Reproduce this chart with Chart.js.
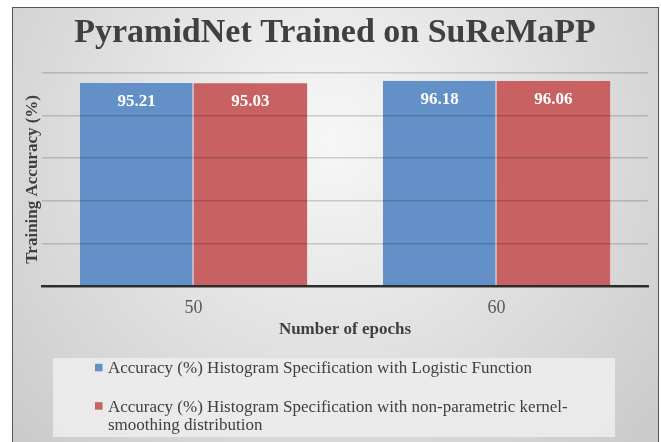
<!DOCTYPE html>
<html>
<head>
<meta charset="utf-8">
<script src="https://cdn.jsdelivr.net/npm/chart.js@4.4.1/dist/chart.umd.min.js"></script>
<style>
  html, body { margin: 0; padding: 0; background: #fff; }
</style>
</head>
<body>
<canvas id="c" width="661" height="442"></canvas>
<script>
// data
const epochs = ['50', '60'];
const logisticAcc = [95.21, 96.18];
const kernelAcc = [95.03, 96.06];
const seriesNames = [
  'Accuracy (%) Histogram Specification with Logistic Function',
  'Accuracy (%) Histogram Specification with non-parametric kernel-smoothing distribution'
];
const yTicks = [0, 20, 40, 60, 80, 100];

const SERIF = '"Liberation Serif", "Times New Roman", serif';

// wrap at spaces and after hyphens
function wrapText(ctx, text, maxW){
  const toks = [];
  text.split(' ').forEach((w, wi) => {
    w.split(/(?<=-)/).forEach((p, pi) => toks.push({t: p, sp: wi > 0 && pi === 0}));
  });
  const lines = [];
  let cur = '';
  toks.forEach(tk => {
    const test = cur + (cur && tk.sp ? ' ' : '') + tk.t;
    if(cur && ctx.measureText(test).width > maxW){ lines.push(cur); cur = tk.t; }
    else cur = test;
  });
  if(cur) lines.push(cur);
  return lines;
}

const frameBg = {
  id: 'frameBg',
  beforeDraw(chart){
    const {ctx, width, height} = chart;
    ctx.save();
    ctx.fillStyle = '#fff';
    ctx.fillRect(0, 0, width, height);
    const g = ctx.createRadialGradient(330, 140, 10, 330, 140, 430);
    g.addColorStop(0, '#f6f6f6');
    g.addColorStop(1, '#cbcbcb');
    ctx.fillStyle = g;
    ctx.fillRect(12.5, 7.5, 646, 440);
    ctx.strokeStyle = '#555';
    ctx.lineWidth = 1;
    ctx.strokeRect(12.5, 7.5, 646, 440);
    ctx.restore();
  }
};

const valueLabels = {
  id: 'valueLabels',
  afterDraw(chart){
    const {ctx} = chart;
    ctx.save();
    ctx.font = 'bold 17px ' + SERIF;
    ctx.fillStyle = '#fff';
    ctx.textAlign = 'center';
    ctx.textBaseline = 'middle';
    chart.data.datasets.forEach((ds, i) => {
      chart.getDatasetMeta(i).data.forEach((bar, j) => {
        ctx.fillText(ds.data[j].toFixed(2), bar.x, bar.y + 18.4);
      });
    });
    ctx.restore();
  }
};

const boxLegend = {
  id: 'boxLegend',
  afterDraw(chart){
    const {ctx} = chart;
    ctx.save();
    ctx.fillStyle = 'rgba(236,236,236,0.9)';
    ctx.fillRect(53, 358, 562, 79);
    ctx.font = '17px ' + SERIF;
    ctx.textBaseline = 'alphabetic';
    ctx.textAlign = 'left';
    const rows = [373.3, 411.7];
    chart.data.datasets.forEach((ds, i) => {
      const lines = wrapText(ctx, ds.label, 500);
      ctx.fillStyle = ds.backgroundColor;
      ctx.fillRect(95, rows[i] - 9.5, 7.5, 7.5);
      ctx.fillStyle = '#404040';
      lines.forEach((ln, j) => ctx.fillText(ln, 108, rows[i] + j * 18.5));
    });
    ctx.restore();
  }
};

new Chart(document.getElementById('c'), {
  type: 'bar',
  data: {
    labels: epochs,
    datasets: [
      { label: seriesNames[0], data: logisticAcc, backgroundColor: '#6290c7',
        borderColor: 'rgba(255,255,255,0.6)', borderWidth: {top: 0, left: 0, bottom: 0, right: 1} },
      { label: seriesNames[1], data: kernelAcc, backgroundColor: '#c86262', borderWidth: 0 }
    ]
  },
  options: {
    responsive: false,
    animation: false,
    layout: { padding: { left: 22, right: 13, top: 8, bottom: 101.8 } },
    datasets: { bar: { categoryPercentage: 0.75, barPercentage: 1 } },
    plugins: {
      legend: { display: false },
      tooltip: { enabled: false },
      title: {
        display: true,
        text: 'PyramidNet Trained on SuReMaPP',
        color: '#404040',
        font: { family: SERIF, size: 34, weight: 'bold' },
        padding: { top: 4.6, bottom: 19.3 }
      }
    },
    scales: {
      x: {
        grid: { display: false },
        border: { color: '#333', width: 2.5, z: 1 },
        ticks: { color: '#595959', font: { family: SERIF, size: 18 }, padding: 3 },
        title: { display: true, text: 'Number of epochs', color: '#404040',
                 font: { family: SERIF, size: 17, weight: 'bold' }, padding: { top: 0, bottom: 0 } },
        afterFit(s){ s.height = 54.2; }
      },
      y: {
        min: yTicks[0],
        max: yTicks[yTicks.length - 1],
        ticks: { display: false, stepSize: yTicks[1] - yTicks[0] },
        grid: { color: 'rgba(0,0,0,0.17)', lineWidth: 1.5, drawTicks: false, z: 1 },
        border: { display: false },
        title: { display: true, text: 'Training Accuracy (%)', color: '#404040',
                 font: { family: SERIF, size: 17, weight: 'bold' }, padding: { top: 0, bottom: 0 } },
        afterFit(s){ s.width = 20; }
      }
    }
  },
  plugins: [frameBg, valueLabels, boxLegend]
});
</script>
</body>
</html>
